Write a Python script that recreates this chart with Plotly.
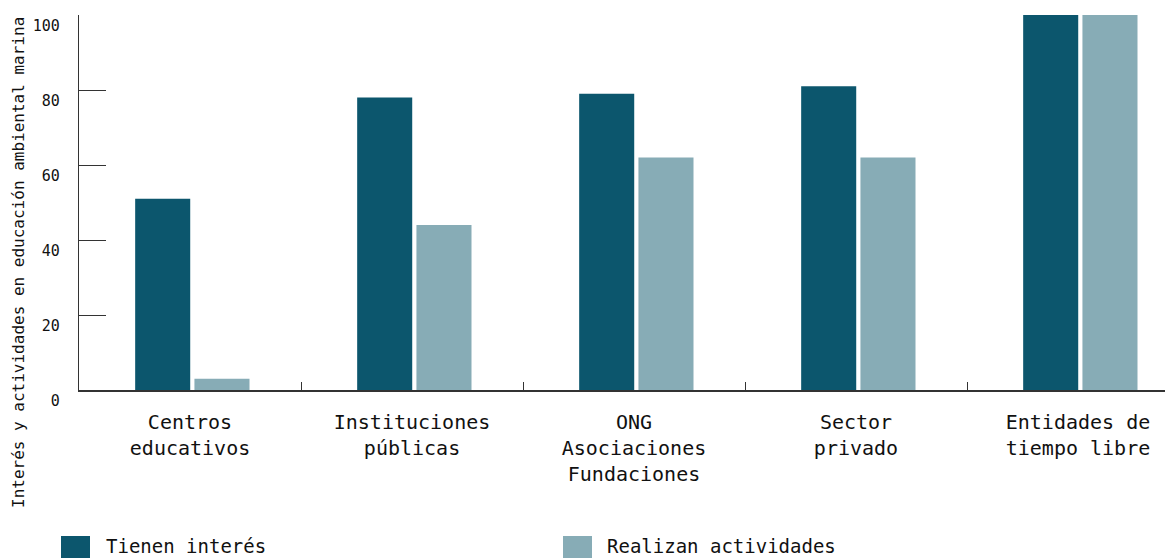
import plotly.graph_objects as go

categories = ["Centros<br>educativos", "Instituciones<br>públicas", "ONG<br>Asociaciones<br>Fundaciones",
              "Sector<br>privado", "Entidades de<br>tiempo libre"]
tienen_interes = [51, 78, 79, 81, 100]
realizan_actividades = [3, 44, 62, 62, 100]
series_names = ["Tienen interés", "Realizan actividades"]
y_ticks = [0, 20, 40, 60, 80, 100]
y_title = "Interés y actividades en educación ambiental marina"

DARK = "#0c566d"
LIGHT = "#87acb6"
FONT = "DejaVu Sans Mono"
AX = "#333333"

OFF = 8  # page body margin
W, H = 1165, 550
L, R, T, B = 79 - OFF, 0, 15 - OFF, H - (390 - OFF)
pw, ph = W - L - R, H - T - B

def px_x(px):
    return (px - OFF - L) / pw

def px_y(py):
    return (H - B - (py - OFF)) / ph

fig = go.Figure()
fig.add_trace(go.Bar(x=categories, y=tienen_interes, name=series_names[0],
                     marker=dict(color=DARK, line=dict(width=0)),
                     width=0.248, offset=-0.247, showlegend=False))
fig.add_trace(go.Bar(x=categories, y=realizan_actividades, name=series_names[1],
                     marker=dict(color=LIGHT, line=dict(width=0)),
                     width=0.248, offset=0.02, showlegend=False))

fig.update_layout(
    width=W, height=H,
    margin=dict(l=L, r=R, t=T, b=B),
    paper_bgcolor="white", plot_bgcolor="white",
    font=dict(family=FONT, color="#111111"),
    barmode="group",
)
fig.update_xaxes(
    range=[-0.5, -0.5 + pw / 222.0],
    showline=True, linecolor=AX, linewidth=1.5,
    ticks="inside", ticklen=8, tickcolor=AX, tickwidth=1.2,
    tickson="boundaries",
    tickfont=dict(family=FONT, size=20, color="#111111"),
    ticklabelstandoff=13,
    showgrid=False, zeroline=False, fixedrange=True,
)
fig.update_yaxes(
    range=[0, 100],
    tickvals=y_ticks,
    showline=True, linecolor=AX, linewidth=1.2,
    ticks="inside", ticklen=27, tickcolor=AX, tickwidth=1.2,
    tickfont=dict(family=FONT, size=15, color="#111111"),
    ticklabelposition="outside bottom",
    ticklabelstandoff=15,
    showgrid=False, zeroline=False,
)

# y-axis title
fig.add_annotation(text=y_title, textangle=-90, xref="paper", yref="paper",
                   x=px_x(18), y=px_y(263), xanchor="center", yanchor="middle",
                   showarrow=False, font=dict(family=FONT, size=16, color="#111111"))

# legend (drawn manually for large swatches)
legend_items = [(61, 90, 105, DARK), (563, 592, 606, LIGHT)]
for (x0, x1, tx, col), name in zip(legend_items, series_names):
    fig.add_shape(type="rect", xref="paper", yref="paper",
                  x0=px_x(x0), x1=px_x(x1), y0=px_y(536), y1=px_y(565),
                  fillcolor=col, line=dict(width=0))
    fig.add_annotation(text=name, xref="paper", yref="paper",
                       x=px_x(tx), y=px_y(558), xanchor="left", yanchor="bottom",
                       borderpad=0, showarrow=False,
                       font=dict(family=FONT, size=19, color="#111111"))

fig.write_html("out.html")
